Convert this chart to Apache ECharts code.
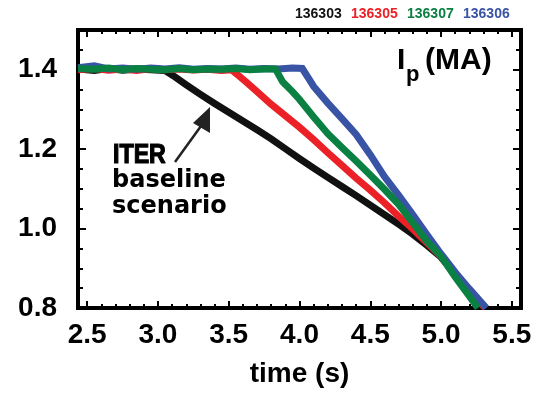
<!DOCTYPE html>
<html><head><meta charset="utf-8">
<script src="https://cdn.jsdelivr.net/npm/echarts@6/dist/echarts.min.js"></script>
<style>html,body{margin:0;padding:0;background:#fff}#c{width:540px;height:393px}</style>
</head><body><div id="c"></div>
<script>
// ---- data ----
const seriesNames = ['136303', '136305', '136307', '136306'];
const seriesColors = ['#111111', '#ec2027', '#0b8043', '#3a54a5'];
const t303 = [2.435,2.55,2.65,2.75,2.85,2.95,3.05,3.12,3.20,3.30,3.40,3.50,3.60,3.70,3.80,3.90,4.00,4.10,4.20,4.30,4.40,4.50,4.60,4.70,4.80,4.90,5.00,5.10,5.20,5.28];
const v303 = [1.402,1.398,1.403,1.399,1.402,1.400,1.398,1.382,1.362,1.338,1.315,1.293,1.271,1.249,1.226,1.201,1.176,1.152,1.129,1.106,1.083,1.059,1.035,1.011,0.986,0.958,0.928,0.885,0.843,0.800];
const t305 = [2.435,2.55,2.65,2.75,2.85,2.95,3.05,3.15,3.25,3.35,3.45,3.52,3.57,3.62,3.70,3.80,3.90,4.00,4.10,4.20,4.30,4.40,4.50,4.60,4.70,4.80,4.90,5.00,5.10,5.20,5.31];
const v305 = [1.400,1.403,1.399,1.402,1.398,1.403,1.400,1.402,1.399,1.401,1.398,1.400,1.385,1.370,1.345,1.313,1.284,1.255,1.224,1.191,1.159,1.127,1.097,1.065,1.031,0.999,0.964,0.930,0.884,0.845,0.801];
const t307 = [2.435,2.55,2.65,2.75,2.85,2.95,3.05,3.15,3.25,3.35,3.45,3.55,3.65,3.75,3.83,3.88,3.95,4.00,4.10,4.20,4.30,4.40,4.50,4.60,4.70,4.80,4.90,5.00,5.10,5.20,5.26];
const v307 = [1.403,1.401,1.404,1.400,1.403,1.401,1.400,1.403,1.400,1.402,1.401,1.403,1.400,1.402,1.402,1.370,1.345,1.325,1.281,1.239,1.204,1.170,1.135,1.099,1.061,1.015,0.968,0.930,0.878,0.830,0.800];
const t306 = [2.435,2.55,2.65,2.75,2.85,2.95,3.05,3.15,3.25,3.35,3.45,3.55,3.65,3.75,3.85,3.95,4.02,4.07,4.10,4.20,4.30,4.40,4.50,4.60,4.70,4.80,4.90,5.00,5.10,5.20,5.32];
const v306 = [1.405,1.410,1.402,1.404,1.401,1.404,1.402,1.405,1.401,1.403,1.402,1.404,1.401,1.403,1.402,1.404,1.403,1.375,1.358,1.316,1.277,1.237,1.186,1.131,1.084,1.035,0.985,0.936,0.890,0.848,0.800];
const xMajor = [2.5,3.0,3.5,4.0,4.5,5.0,5.5];
const xMinor = [2.6,2.7,2.8,2.9,3.1,3.2,3.3,3.4,3.6,3.7,3.8,3.9,4.1,4.2,4.3,4.4,4.6,4.7,4.8,4.9,5.1,5.2,5.3,5.4];
const yMajor = [0.8,1.0,1.2,1.4];
const yMinor = [0.85,0.9,0.95,1.05,1.1,1.15,1.25,1.3,1.35,1.45];

const pairs = (t, v) => t.map((x, i) => [x, v[i]]);
const FONT = 'Liberation Sans, Arial, sans-serif';
const chart = echarts.init(document.getElementById('c'), null, {renderer: 'canvas'});

function xAx(pos, vals, len, labels) {
  return {
    type: 'value', position: pos, min: 2.435, max: 5.565,
    axisLine: {show: false}, splitLine: {show: false},
    axisTick: {show: true, inside: true, length: len, customValues: vals, lineStyle: {color: '#000', width: 2}},
    axisLabel: labels ? {show: true, customValues: xMajor, formatter: v => v.toFixed(1), color: '#000', fontFamily: FONT, fontWeight: 'bold', fontSize: 28, margin: 13} : {show: false},
    name: labels ? 'time (s)' : '', nameLocation: 'middle', nameGap: 52,
    nameTextStyle: {color: '#000', fontFamily: FONT, fontWeight: 'bold', fontSize: 28}
  };
}
function yAx(pos, vals, len, labels) {
  return {
    type: 'value', position: pos, min: 0.8, max: 1.5,
    axisLine: {show: false}, splitLine: {show: false},
    axisTick: {show: true, inside: true, length: len, customValues: vals, lineStyle: {color: '#000', width: 2}},
    axisLabel: labels ? {show: true, customValues: yMajor, formatter: v => v.toFixed(1), color: '#000', fontFamily: FONT, fontWeight: 'bold', fontSize: 28, margin: 21} : {show: false}
  };
}

const data = [pairs(t303, v303), pairs(t305, v305), pairs(t307, v307), pairs(t306, v306)];
const order = [0, 1, 3, 2]; // black, red, blue, green on top
const series = order.map(i => ({
  name: seriesNames[i], type: 'line', data: data[i], showSymbol: false, symbol: 'none',
  lineStyle: {color: seriesColors[i], width: 7, join: 'miter'}, animation: false, z: 3
}));

const legendX = [295, 351, 407, 463];
const graphics = seriesNames.map((n, i) => ({
  type: 'text', left: legendX[i], top: 7,
  style: {text: n, fill: seriesColors[i], font: 'bold 14px ' + FONT}
}));
graphics.push(
  {type: 'text', x: 397, y: 61, style: {text: 'I', fill: '#000', font: 'bold 30px ' + FONT, verticalAlign: 'middle'}},
  {type: 'text', x: 406, y: 75, style: {text: 'p', fill: '#000', font: 'bold 22px ' + FONT, verticalAlign: 'middle'}},
  {type: 'text', x: 425, y: 61, style: {text: '(MA)', fill: '#000', font: 'bold 30px ' + FONT, verticalAlign: 'middle'}},
  {type: 'text', x: 113, y: 156, scaleX: 0.86, originX: 0, originY: 0, style: {text: 'ITER', fill: '#000', stroke: '#000', lineWidth: 1.2, font: 'bold 27px ' + FONT, verticalAlign: 'middle'}},
  {type: 'text', x: 112, y: 181, style: {text: 'baseline', fill: '#000', font: 'bold 24px "DejaVu Sans", sans-serif', verticalAlign: 'middle'}},
  {type: 'text', x: 112, y: 207, style: {text: 'scenario', fill: '#000', font: 'bold 24px "DejaVu Sans", sans-serif', verticalAlign: 'middle'}},
  {type: 'line', shape: {x1: 175, y1: 162, x2: 201, y2: 126}, style: {stroke: '#222', lineWidth: 2.5}},
  {type: 'polygon', shape: {points: [[210, 107], [193, 123], [210, 133]]}, style: {fill: '#222'}}
);

chart.setOption({
  animation: false,
  backgroundColor: '#fff',
  grid: {left: 78, right: 19, top: 30, bottom: 80, show: true, borderColor: '#000', borderWidth: 4, backgroundColor: 'transparent'},
  xAxis: [xAx('bottom', xMajor, 7, true), xAx('bottom', xMinor, 4, false), xAx('top', xMajor, 7, false), xAx('top', xMinor, 4, false)],
  yAxis: [yAx('left', yMajor, 8, true), yAx('left', yMinor, 5, false), yAx('right', yMajor, 8, false), yAx('right', yMinor, 5, false)],
  series: series,
  graphic: graphics
});
</script></body></html>
